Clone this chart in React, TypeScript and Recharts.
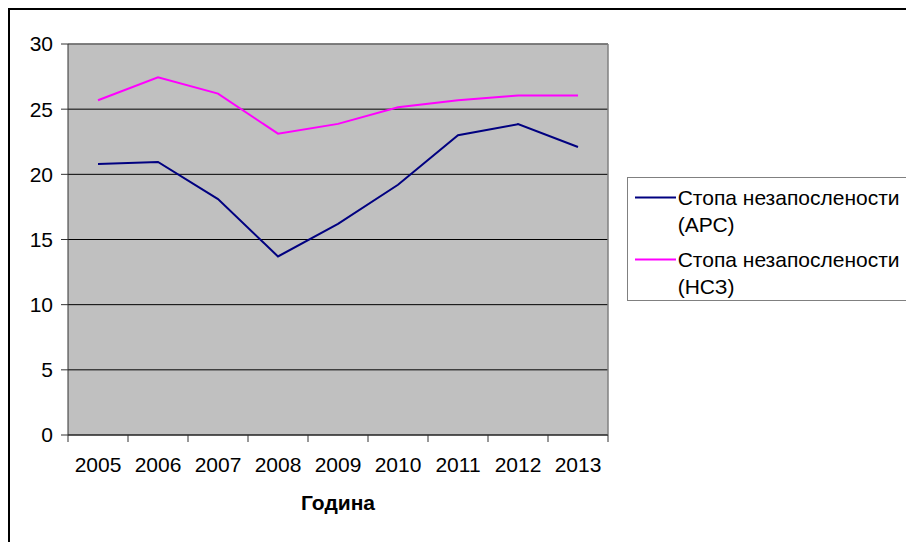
import React from 'react';
import { LineChart, Line, XAxis, YAxis, CartesianGrid, Legend, ReferenceLine } from 'recharts';

const years = ['2005', '2006', '2007', '2008', '2009', '2010', '2011', '2012', '2013'];
const apsRate = [20.8, 20.95, 18.1, 13.7, 16.2, 19.2, 23.0, 23.85, 22.1];
const nszRate = [25.68, 27.44, 26.19, 23.12, 23.87, 25.14, 25.68, 26.05, 26.05];
const yTicks = [0, 5, 10, 15, 20, 25, 30];
const xBoundaries = [0, 1, 2, 3, 4, 5, 6, 7, 8, 9];

const apsName = 'Стопа незапослености (АРС)';
const nszName = 'Стопа незапослености (НСЗ)';

// each year sits in the middle of its category band (Excel style)
const data = years.map((year, i) => ({
  x: i + 0.5,
  year,
  aps: apsRate[i],
  nsz: nszRate[i],
}));

const FONT = '"Liberation Sans", Arial, sans-serif';

const YearTick = (props: any) => {
  const { x, y, payload, width } = props;
  const i = payload.value;
  if (i >= years.length) return null;
  const w = typeof width === 'number' ? width : 540;
  const half = w / years.length / 2;
  return (
    <text x={x + half} y={y} dy="0.71em" textAnchor="middle" fill="#000" fontSize={21} fontFamily={FONT}>
      {years[i]}
    </text>
  );
};

// legend box runs off the right edge of the frame, like the original
const LegendBox = (props: any) => {
  const items = props.payload || [];
  return (
    <div
      style={{
        border: '1px solid #808080',
        background: '#fff',
        width: 340,
        padding: '6px 0 0 6px',
        boxSizing: 'border-box',
        fontFamily: FONT,
        fontSize: 21,
        lineHeight: '27px',
        color: '#000',
        whiteSpace: 'nowrap',
      }}
    >
      {items.map((item: any, idx: number) => {
        const name = String(item.value);
        const cut = name.indexOf(' (');
        return (
          <div key={name} style={{ display: 'flex', marginBottom: idx < items.length - 1 ? 8 : 0 }}>
            <svg width={44} height={27} style={{ flex: 'none' }}>
              <line x1={1} y1={13.5} x2={42} y2={13.5} stroke={item.color} strokeWidth={2} />
            </svg>
            <div>
              <div>{cut > 0 ? name.slice(0, cut) : name}</div>
              {cut > 0 && <div>{name.slice(cut + 1)}</div>}
            </div>
          </div>
        );
      })}
    </div>
  );
};

export default function App() {
  return (
    <div
      style={{
        position: 'fixed',
        left: 8,
        top: 8,
        width: 898,
        height: 534,
        boxSizing: 'border-box',
        borderTop: '2px solid #000',
        borderLeft: '2px solid #000',
        overflow: 'hidden',
        background: '#fff',
        fontFamily: FONT,
      }}
    >
      <LineChart width={896} height={532} data={data} margin={{ top: 34, right: 0, bottom: 0, left: 0 }}>
        <CartesianGrid vertical={false} stroke="#000" fill="#C0C0C0" fillOpacity={1} />
        <XAxis
          type="number"
          dataKey="x"
          domain={[0, 9]}
          ticks={xBoundaries}
          interval={0}
          height={107}
          tickSize={7}
          tickMargin={15}
          stroke="#333"
          tick={<YearTick />}
          label={{ value: 'Година', position: 'insideBottom', offset: 32, fill: '#000', fontSize: 21, fontWeight: 'bold', fontFamily: FONT }}
        />
        <YAxis
          domain={[0, 30]}
          ticks={yTicks}
          interval={0}
          width={58}
          tickSize={7}
          tickMargin={8}
          stroke="#333"
          tick={{ fill: '#000', fontSize: 21, fontFamily: FONT }}
        />
        <ReferenceLine y={30} stroke="#808080" strokeWidth={1.5} />
        <ReferenceLine x={9} stroke="#808080" strokeWidth={1.5} />
        <Legend
          layout="vertical"
          align="right"
          verticalAlign="top"
          content={<LegendBox />}
          wrapperStyle={{ left: 616.7, top: 166.7, width: 298 }}
        />
        <Line
          type="linear"
          dataKey="aps"
          name={apsName}
          stroke="#000080"
          strokeWidth={2}
          dot={false}
          activeDot={false}
          isAnimationActive={false}
        />
        <Line
          type="linear"
          dataKey="nsz"
          name={nszName}
          stroke="#FF00FF"
          strokeWidth={2}
          dot={false}
          activeDot={false}
          isAnimationActive={false}
        />
      </LineChart>
    </div>
  );
}
